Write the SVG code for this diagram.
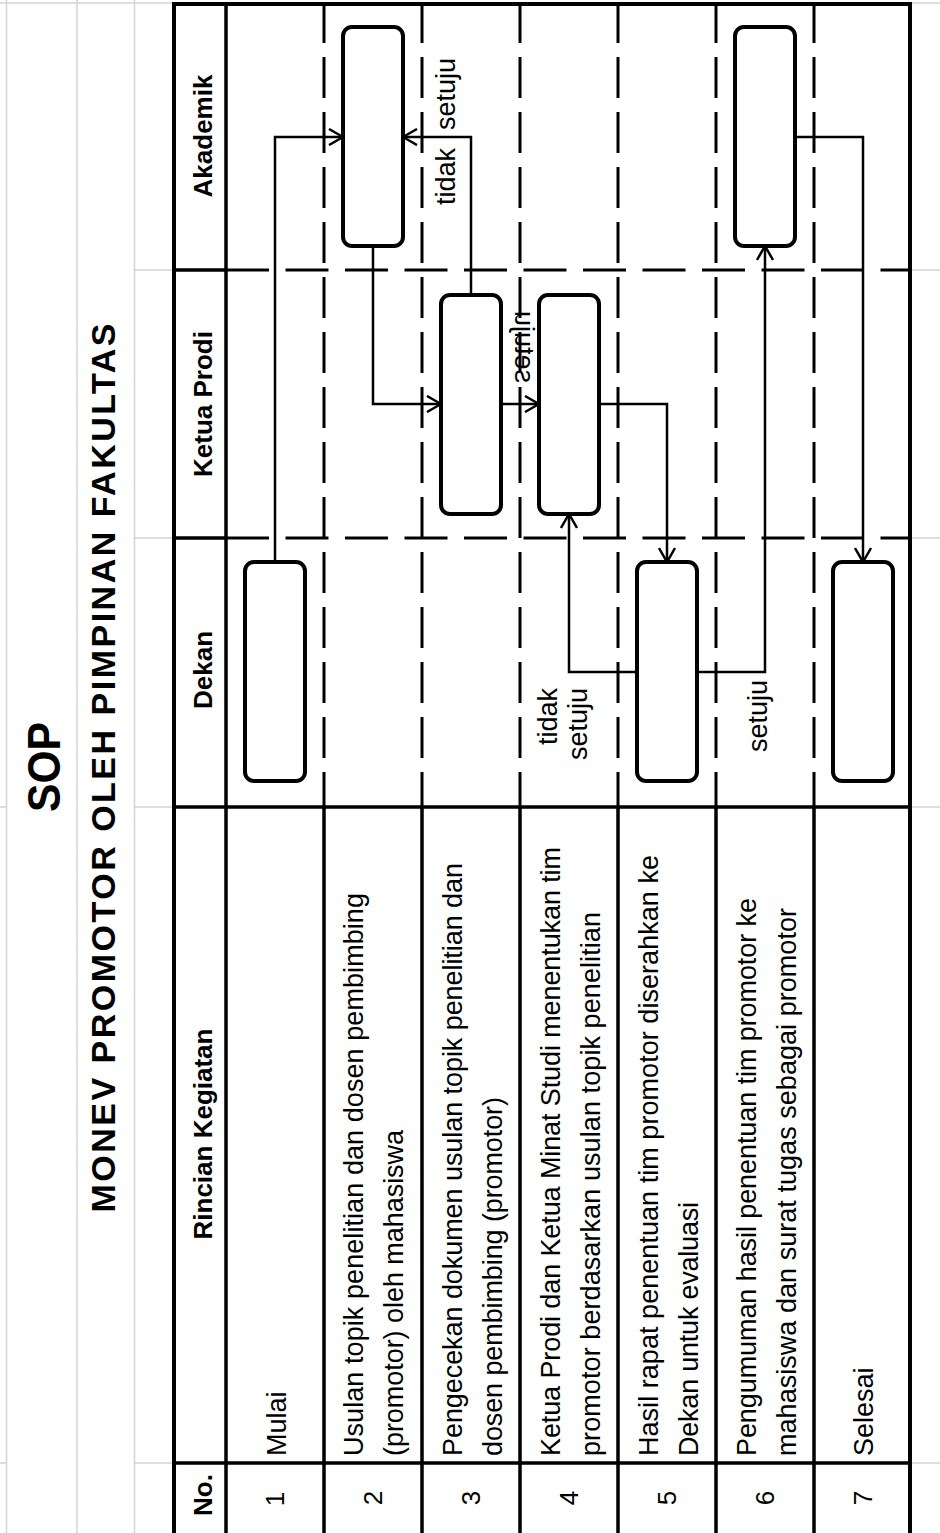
<svg xmlns="http://www.w3.org/2000/svg" width="940" height="1533" viewBox="0 0 940 1533">
<style>
.grid{stroke:#d4d4d4;stroke-width:1.5;fill:none}
.bd{stroke:#000;stroke-width:4;fill:none}
.sep{stroke:#000;stroke-width:3.5;fill:none}
.hd{stroke:#000;stroke-width:3;stroke-dasharray:43 16.5;fill:none}
.vd{stroke:#000;stroke-width:3;stroke-dasharray:41 14;fill:none}
.node rect{fill:#fff;stroke:#000;stroke-width:4}
.conn path{fill:none;stroke:#000;stroke-width:2.5;marker-end:url(#arr)}
text{font-family:"Liberation Sans",Arial,sans-serif;fill:#000}
.t{font-size:27px}
.h{font-size:26px;font-weight:bold;text-anchor:middle}
.n{font-size:26px;text-anchor:middle}
</style>
<defs>
<marker id="arr" viewBox="0 0 16 18" refX="15" refY="9" markerWidth="16" markerHeight="18" markerUnits="userSpaceOnUse" orient="auto">
<path d="M1,1 L15,9 L1,17" fill="none" stroke="#000" stroke-width="2.5"/>
</marker>
</defs>
<rect width="940" height="1533" fill="#fff"/>
<g id="gridlines">
<path class="grid" d="M6.5,0V1533M77,0V1533M134.5,0V1533"/>
<path class="grid" d="M0,3H174M910,3H940M134.5,270H174M910,270H940M134.5,538H174M910,538H940M134.5,807H174M910,807H940M134.5,1463H174M910,1463H940M0,1463H6.5M0,807H6.5"/>
</g>
<g id="titles">
<text transform="translate(60,767) rotate(-90)" style="font-size:46px;font-weight:bold;text-anchor:middle" textLength="90" lengthAdjust="spacingAndGlyphs">SOP</text>
<text transform="translate(115,768) rotate(-90)" style="font-size:34px;font-weight:bold;text-anchor:middle" textLength="889">MONEV PROMOTOR OLEH PIMPINAN FAKULTAS</text>
</g>
<g id="table">
<path class="bd" d="M174,1533V4H910V1533"/>
<path class="sep" d="M226,4V1533M174,270H226M174,538H226M174,807H910M174,1463H910"/>
<path class="sep" d="M324,807V1533M422,807V1533M520,807V1533M618,807V1533M716,807V1533M814,807V1533"/>
<path class="vd" d="M324,2V807M422,2V807M520,2V807M618,2V807M716,2V807M814,2V807"/>
<path class="hd" d="M226,270H910M226,538H910"/>
</g>
<g id="headers">
<text class="h" transform="translate(212,136) rotate(-90)">Akademik</text>
<text class="h" transform="translate(212,404) rotate(-90)">Ketua Prodi</text>
<text class="h" transform="translate(212,670) rotate(-90)">Dekan</text>
<text class="h" transform="translate(212,1134) rotate(-90)">Rincian Kegiatan</text>
<text class="h" transform="translate(212,1495) rotate(-90)">No.</text>
</g>
<g id="numbers">
<text class="n" transform="translate(284,1499) rotate(-90)">1</text>
<text class="n" transform="translate(382,1498) rotate(-90)">2</text>
<text class="n" transform="translate(480,1498) rotate(-90)">3</text>
<text class="n" transform="translate(578,1498) rotate(-90)">4</text>
<text class="n" transform="translate(676,1498) rotate(-90)">5</text>
<text class="n" transform="translate(774,1498) rotate(-90)">6</text>
<text class="n" transform="translate(872,1498) rotate(-90)">7</text>
</g>
<g id="activities">
<text class="t" transform="translate(286,1456) rotate(-90)">Mulai</text>
<text class="t" transform="translate(363,1456) rotate(-90)" textLength="563">Usulan topik penelitian dan dosen pembimbing</text>
<text class="t" transform="translate(403,1456) rotate(-90)" textLength="326">(promotor) oleh mahasiswa</text>
<text class="t" transform="translate(462,1456) rotate(-90)" textLength="593">Pengecekan dokumen usulan topik penelitian dan</text>
<text class="t" transform="translate(502,1456) rotate(-90)" textLength="359">dosen pembimbing (promotor)</text>
<text class="t" transform="translate(560,1456) rotate(-90)" textLength="609">Ketua Prodi dan Ketua Minat Studi menentukan tim</text>
<text class="t" transform="translate(600,1456) rotate(-90)" textLength="544">promotor berdasarkan usulan topik penelitian</text>
<text class="t" transform="translate(658,1456) rotate(-90)" textLength="601">Hasil rapat penentuan tim promotor diserahkan ke</text>
<text class="t" transform="translate(698,1456) rotate(-90)" textLength="254">Dekan untuk evaluasi</text>
<text class="t" transform="translate(756,1456) rotate(-90)" textLength="558">Pengumuman hasil penentuan tim promotor ke</text>
<text class="t" transform="translate(796,1456) rotate(-90)" textLength="548">mahasiswa dan surat tugas sebagai promotor</text>
<text class="t" transform="translate(873,1456) rotate(-90)">Selesai</text>
</g>
<g id="connectors" class="conn">
<path d="M275,562V137H343"/>
<path d="M373,246V404H441"/>
<path d="M471,295V137H403"/>
<path d="M501,404H539"/>
<path d="M599,404H667V562"/>
<path d="M637,672H569V514"/>
<path d="M697,672H765V246"/>
<path d="M795,137H863V562"/>
</g>
<g id="labels">
<text class="t" transform="translate(455,130) rotate(-90)">setuju</text>
<text class="t" transform="translate(455,205) rotate(-90)">tidak</text>
<text class="t" transform="translate(515,383) rotate(-90) scale(1,-1)">setuju</text>
<text class="t" transform="translate(557,688) rotate(-90)" style="text-anchor:end">tidak</text>
<text class="t" transform="translate(587,688) rotate(-90)" style="text-anchor:end">setuju</text>
<text class="t" transform="translate(767,752) rotate(-90)">setuju</text>
</g>
<g id="node-mulai" class="node"><rect x="245" y="562" width="60" height="219" rx="9"/></g>
<g id="node-usulan" class="node"><rect x="343" y="27" width="60" height="219" rx="9"/></g>
<g id="node-pengecekan" class="node"><rect x="441" y="295" width="60" height="219" rx="9"/></g>
<g id="node-penentuan" class="node"><rect x="539" y="295" width="60" height="219" rx="9"/></g>
<g id="node-evaluasi" class="node"><rect x="637" y="562" width="60" height="219" rx="9"/></g>
<g id="node-pengumuman" class="node"><rect x="735" y="27" width="60" height="219" rx="9"/></g>
<g id="node-selesai" class="node"><rect x="833" y="562" width="60" height="219" rx="9"/></g>
</svg>
